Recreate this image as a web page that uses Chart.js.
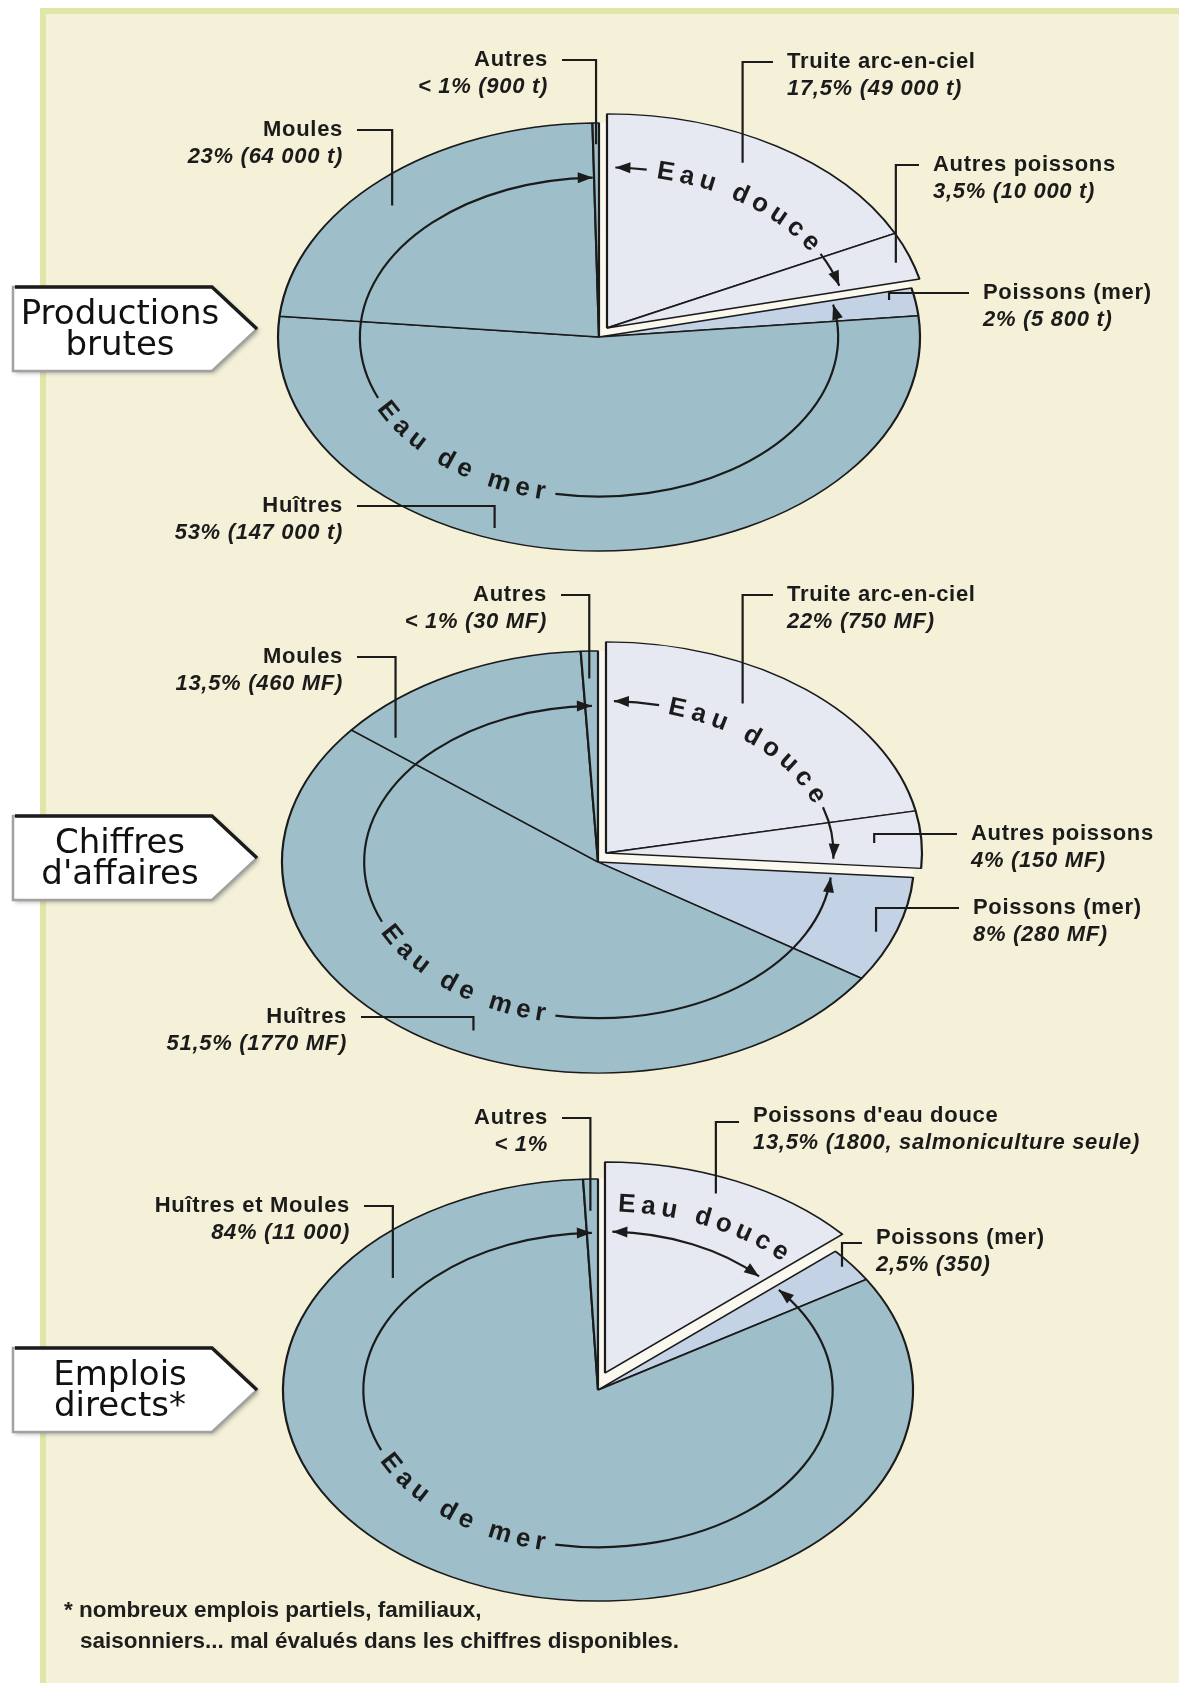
<!DOCTYPE html>
<html lang="fr">
<head>
<meta charset="utf-8">
<title>Aquaculture : productions, chiffres d'affaires, emplois</title>
<script src="https://cdn.jsdelivr.net/npm/chart.js@4.4.1/dist/chart.umd.min.js"></script>
<style>
  html, body { margin: 0; padding: 0; background: #fff; }
  #page { position: relative; width: 1179px; height: 1689px; overflow: hidden; background: #fff; }
  #panel { position: absolute; left: 40px; top: 8px; right: 0; bottom: 6px; background: #f4f1d8;
           border-left: 6px solid #dfe6a8; border-top: 6px solid #dfe6a8; }
  canvas { position: absolute; left: 0; }
  #note { position: absolute; left: 64px; top: 1594px; font: bold 22.5px "Liberation Sans", Arial, sans-serif;
          color: #1e1e1e; line-height: 31px; }
  #note span { padding-left: 16px; }
</style>
</head>
<body>
<div id="page">
  <div id="panel"></div>
  <canvas id="prodChart" width="1179" height="700"></canvas>
  <canvas id="caChart" width="1179" height="700"></canvas>
  <canvas id="empChart" width="1179" height="700"></canvas>
  <div id="note">* nombreux emplois partiels, familiaux,<br><span>saisonniers... mal évalués dans les chiffres disponibles.</span></div>
</div>
<script>
// =====================
// Data
// =====================
const prodLabels = ['Truite arc-en-ciel', 'Autres poissons', 'Poissons (mer)', 'Huîtres', 'Moules', 'Autres'];
const prodValues = [49000, 10000, 5800, 147000, 64000, 900];          // tonnes
const prodShares = ['17,5% (49 000 t)', '3,5% (10 000 t)', '2% (5 800 t)', '53% (147 000 t)', '23% (64 000 t)', '< 1% (900 t)'];
const prodWater  = ['douce', 'douce', 'mer', 'mer', 'mer', 'mer'];

const caLabels = ['Truite arc-en-ciel', 'Autres poissons', 'Poissons (mer)', 'Huîtres', 'Moules', 'Autres'];
const caValues = [750, 150, 280, 1770, 460, 30];                       // MF
const caShares = ['22% (750 MF)', '4% (150 MF)', '8% (280 MF)', '51,5% (1770 MF)', '13,5% (460 MF)', '< 1% (30 MF)'];
const caWater  = ['douce', 'douce', 'mer', 'mer', 'mer', 'mer'];

const empLabels = ["Poissons d'eau douce", 'Poissons (mer)', 'Huîtres et Moules', 'Autres'];
const empValues = [1800, 350, 11000, 100];                             // emplois ("Autres" < 1 %, estimé)
const empShares = ['13,5% (1800, salmoniculture seule)', '2,5% (350)', '84% (11 000)', '< 1%'];
const empWater  = ['douce', 'mer', 'mer', 'mer'];

// =====================
// Styles / layout
// =====================
const INK = '#1b1b1b';
const LABEL_FONT = 'bold 22px "Liberation Sans", Arial, sans-serif';
const SHARE_FONT = 'italic bold 22px "Liberation Sans", Arial, sans-serif';
const WATER_FONT = 'bold 26px "Liberation Sans", Arial, sans-serif';
const BOX_FONT = '34px "DejaVu Sans", sans-serif';
const COLORS = { douce: '#e6e8f2', poissonsMer: '#c3d2e4', mer: '#9ebfca' };

const prodLayout = {
  cx: 599, cy: 337, R: 321, k: 0.667,
  shift: { d: 15.7, angle: 30.6 },
  box: { top: 287, lines: ['Productions', 'brutes'] },
  douce: { r: 0.75, text: [12, 60], textR: 0.75, onArc: true },
  mer: { r: 0.745, text: [245, 193] },
  labels: [
    { x: 787, y: 62,  align: 'left',  t: 0.45,  f: 0.88 },
    { x: 933, y: 165, align: 'left',  t: 0.58,  f: 0.95 },
    { x: 983, y: 293, align: 'left',  t: 0.32,  f: 0.92 },
    { x: 343, y: 506, align: 'right', t: 0.605, f: 0.95 },
    { x: 343, y: 130, align: 'right', t: 0.457, f: 0.89 },
    { x: 548, y: 60,  align: 'right', t: 0.5,   f: 0.9 }
  ]
};

const caLayout = {
  cx: 598, cy: 862, R: 316, k: 0.668,
  shift: { d: 15.7, angle: 30.6 },
  box: { top: 816, lines: ['Chiffres', "d'affaires"] },
  douce: { r: 0.72, text: [16, 70], textR: 0.72, onArc: true },
  mer: { r: 0.74, text: [245, 193] },
  labels: [
    { x: 787, y: 595,  align: 'left',  t: 0.4,   f: 0.83 },
    { x: 971, y: 834,  align: 'left',  t: 0.53,  f: 0.85 },
    { x: 973, y: 908,  align: 'left',  t: 0.56,  f: 0.94 },
    { x: 347, y: 1017, align: 'right', t: 0.447, f: 0.89 },
    { x: 343, y: 657,  align: 'right', t: 0.08,  f: 0.87 },
    { x: 547, y: 595,  align: 'right', t: 0.42,  f: 0.87 }
  ]
};

const empLayout = {
  cx: 598, cy: 1390, R: 315, k: 0.67,
  shift: { d: 26.3, angle: 15.4 },
  box: { top: 1348, lines: ['Emplois', 'directs*'] },
  douce: { r: 0.67, text: [3, 46], textR: 0.8, onArc: false },
  mer: { r: 0.745, text: [245, 193] },
  labels: [
    { x: 753, y: 1116, ly: 1122, align: 'left',  t: 0.46,  f: 0.92 },
    { x: 876, y: 1238, ly: 1243, align: 'left',  t: 0.43,  f: 0.97 },
    { x: 350, y: 1206, align: 'right', t: 0.839, f: 0.84 },
    { x: 548, y: 1118, align: 'right', t: 0.4,   f: 0.85 }
  ]
};

// =====================
// Geometry helpers
// =====================
const rad = d => d * Math.PI / 180;
const toDeg = a => (a + Math.PI / 2) * 180 / Math.PI;   // chart.js angle -> degrees clockwise from top

function ellPt(c, rx, ry, th) {
  return { x: c.x + rx * Math.sin(rad(th)), y: c.y - ry * Math.cos(rad(th)) };
}

function shiftOf(cfg) {
  return { x: cfg.shift.d * Math.sin(rad(cfg.shift.angle)), y: -cfg.shift.d * Math.cos(rad(cfg.shift.angle)) };
}

function arrowHead(ctx, tip, dx, dy) {
  const n = Math.hypot(dx, dy); dx /= n; dy /= n;
  const L = 15, W = 5.5;
  const bx = tip.x - dx * L, by = tip.y - dy * L;
  ctx.beginPath();
  ctx.moveTo(tip.x, tip.y);
  ctx.lineTo(bx - dy * W, by + dx * W);
  ctx.lineTo(bx + dy * W, by - dx * W);
  ctx.closePath();
  ctx.fill();
}

function arrowArc(ctx, c, rx, ry, th0, th1, cut) {
  const segs = cut ? [[th0, cut[0]], [cut[1], th1]] : [[th0, th1]];
  ctx.lineWidth = 2.2;
  segs.forEach(([a, b]) => {
    ctx.beginPath();
    ctx.ellipse(c.x, c.y, rx, ry, 0, rad(a - 90), rad(b - 90));
    ctx.stroke();
  });
  const p0 = ellPt(c, rx, ry, th0), p1 = ellPt(c, rx, ry, th1);
  arrowHead(ctx, p0, -rx * Math.cos(rad(th0)), -ry * Math.sin(rad(th0)));
  arrowHead(ctx, p1, rx * Math.cos(rad(th1)), ry * Math.sin(rad(th1)));
}

function curvedText(ctx, text, c, rx, ry, th0, th1) {
  const N = 240, ths = [], lens = [0];
  for (let j = 0; j <= N; j++) {
    ths.push(th0 + (th1 - th0) * j / N);
    if (j > 0) {
      const a = ellPt(c, rx, ry, ths[j - 1]), b = ellPt(c, rx, ry, ths[j]);
      lens.push(lens[j - 1] + Math.hypot(b.x - a.x, b.y - a.y));
    }
  }
  const chars = [...text];
  const widths = chars.map(ch => ctx.measureText(ch).width);
  const sum = widths.reduce((s, w) => s + w, 0);
  const gap = (lens[N] - sum) / (chars.length - 1);
  const sign = th1 > th0 ? 1 : -1;
  let d = 0;
  chars.forEach((ch, i) => {
    const mid = d + widths[i] / 2;
    d += widths[i] + gap;
    if (ch === ' ') return;
    let j = 1;
    while (j < N && lens[j] < mid) j++;
    const f = (mid - lens[j - 1]) / (lens[j] - lens[j - 1]);
    const th = ths[j - 1] + (ths[j] - ths[j - 1]) * f;
    const p = ellPt(c, rx, ry, th);
    ctx.save();
    ctx.translate(p.x, p.y);
    ctx.rotate(Math.atan2(sign * ry * Math.sin(rad(th)), sign * rx * Math.cos(rad(th))));
    ctx.fillText(ch, 0, 0);
    ctx.restore();
  });
}

function drawBox(ctx, box, oy) {
  const x0 = 13, x1 = 212, tip = 257, h = 84;
  const t = box.top + oy, m = t + h / 2, b = t + h;
  const path = () => {
    ctx.beginPath();
    ctx.moveTo(x0, t); ctx.lineTo(x1, t); ctx.lineTo(tip, m); ctx.lineTo(x1, b); ctx.lineTo(x0, b);
    ctx.closePath();
  };
  ctx.save();
  ctx.shadowColor = 'rgba(70,70,70,0.45)';
  ctx.shadowBlur = 4; ctx.shadowOffsetX = 2; ctx.shadowOffsetY = 2;
  path(); ctx.fillStyle = '#ffffff'; ctx.fill();
  ctx.restore();
  path(); ctx.strokeStyle = '#a2a2a2'; ctx.lineWidth = 2.5; ctx.stroke();
  ctx.beginPath();
  ctx.moveTo(x0 + 2, t); ctx.lineTo(x1, t); ctx.lineTo(tip, m);
  ctx.strokeStyle = INK; ctx.lineWidth = 3.5; ctx.stroke();
  ctx.fillStyle = '#111';
  ctx.font = BOX_FONT;
  ctx.textAlign = 'center'; ctx.textBaseline = 'middle';
  ctx.fillText(box.lines[0], 120, t + 28);
  ctx.fillText(box.lines[1], 120, t + 59);
}

// =====================
// Plugin: elliptical pie + annotations
// =====================
function makeDecor(cfg, labels, shares, water) {
  const sh = shiftOf(cfg);
  return {
    id: 'decor',
    afterDatasetsUpdate(chart) {
      // shift the freshwater slices as one block
      chart.getDatasetMeta(0).data.forEach((arc, i) => {
        if (water[i] !== 'douce' || arc._shifted) return;
        const baseDraw = arc.draw;
        arc.draw = function (ctx) {
          ctx.save(); ctx.translate(sh.x, sh.y); baseDraw.call(this, ctx); ctx.restore();
        };
        arc._shifted = true;
      });
    },
    beforeDatasetsDraw(chart) {
      const ctx = chart.ctx;
      const arc0 = chart.getDatasetMeta(0).data[0];
      ctx.save();
      ctx.translate(arc0.x, arc0.y);
      ctx.scale(1, cfg.k);
      ctx.translate(-arc0.x, -arc0.y);
      ctx.beginPath();
      ctx.arc(arc0.x, arc0.y, arc0.outerRadius, 0, Math.PI * 2);
      ctx.fillStyle = '#fbf9ef';
      ctx.fill();
    },
    afterDatasetsDraw(chart) {
      const ctx = chart.ctx;
      ctx.restore();
      const arcs = chart.getDatasetMeta(0).data;
      const c = { x: arcs[0].x, y: arcs[0].y };
      const oy = c.y - cfg.cy;
      const R = arcs[0].outerRadius;
      const dc = { x: c.x + sh.x, y: c.y + sh.y * cfg.k };
      const ranges = arcs.map(a => [toDeg(a.startAngle), toDeg(a.endAngle)]);
      const groupRange = w => {
        const idx = water.map((v, i) => v === w ? i : -1).filter(i => i >= 0);
        return [Math.min(...idx.map(i => ranges[i][0])), Math.max(...idx.map(i => ranges[i][1]))];
      };
      const dR = groupRange('douce'), mR = groupRange('mer');

      ctx.save();
      ctx.strokeStyle = INK; ctx.fillStyle = INK;
      ctx.font = WATER_FONT; ctx.textAlign = 'center'; ctx.textBaseline = 'middle';

      // Eau douce
      const dcfg = cfg.douce;
      const drx = R * dcfg.r, dry = R * cfg.k * dcfg.r;
      arrowArc(ctx, dc, drx, dry, dR[0] + 2, dR[1] - 2,
               dcfg.onArc ? [dcfg.text[0] - 2.5, dcfg.text[1] + 2.5] : null);
      curvedText(ctx, 'Eau douce', dc, R * dcfg.textR, R * cfg.k * dcfg.textR, dcfg.text[0], dcfg.text[1]);

      // Eau de mer
      const mcfg = cfg.mer;
      const mrx = R * mcfg.r, mry = R * cfg.k * mcfg.r;
      const tLo = Math.min(...mcfg.text), tHi = Math.max(...mcfg.text);
      arrowArc(ctx, c, mrx, mry, mR[0] + 1.5, mR[1] - 1.5, [tLo - 2.5, tHi + 2.5]);
      curvedText(ctx, 'Eau de mer', c, mrx, mry, mcfg.text[0], mcfg.text[1]);

      // labels with bracket leaders
      ctx.lineWidth = 2.2;
      ctx.lineJoin = 'miter';
      cfg.labels.forEach((spec, i) => {
        const th = ranges[i][0] + spec.t * (ranges[i][1] - ranges[i][0]);
        const center = water[i] === 'douce' ? dc : c;
        const end = ellPt(center, R * spec.f, R * cfg.k * spec.f, th);
        const y = spec.y + oy, ly = (spec.ly || spec.y) + oy;
        const xs = spec.align === 'right' ? spec.x + 14 : spec.x - 14;
        ctx.beginPath();
        ctx.moveTo(xs, ly); ctx.lineTo(end.x, ly); ctx.lineTo(end.x, end.y);
        ctx.stroke();
        ctx.textAlign = spec.align;
        ctx.letterSpacing = '0.7px';
        ctx.font = LABEL_FONT;
        ctx.fillText(labels[i], spec.x, y);
        ctx.font = SHARE_FONT;
        ctx.fillText(shares[i], spec.x, y + 27);
        ctx.letterSpacing = '0px';
      });

      drawBox(ctx, cfg.box, oy);
      ctx.restore();
    }
  };
}

// =====================
// Charts
// =====================
function sliceColors(labels, water) {
  return labels.map((l, i) => water[i] === 'douce' ? COLORS.douce
    : (l === 'Poissons (mer)' ? COLORS.poissonsMer : COLORS.mer));
}

function makePie(canvasId, labels, values, shares, water, cfg) {
  const canvas = document.getElementById(canvasId);
  canvas.style.top = (cfg.cy - 350) + 'px';
  return new Chart(canvas, {
    type: 'pie',
    data: {
      labels: labels,
      datasets: [{
        data: values,
        backgroundColor: sliceColors(labels, water),
        borderColor: INK,
        borderWidth: 2.2,
        radius: cfg.R
      }]
    },
    options: {
      responsive: false,
      devicePixelRatio: 1,
      animation: false,
      events: [],
      layout: { padding: { left: Math.max(0, 2 * cfg.cx - 1179), right: Math.max(0, 1179 - 2 * cfg.cx), top: 0, bottom: 0 } },
      plugins: { legend: { display: false }, tooltip: { enabled: false } }
    },
    plugins: [makeDecor(cfg, labels, shares, water)]
  });
}

makePie('prodChart', prodLabels, prodValues, prodShares, prodWater, prodLayout);
makePie('caChart', caLabels, caValues, caShares, caWater, caLayout);
makePie('empChart', empLabels, empValues, empShares, empWater, empLayout);
</script>
</body>
</html>
